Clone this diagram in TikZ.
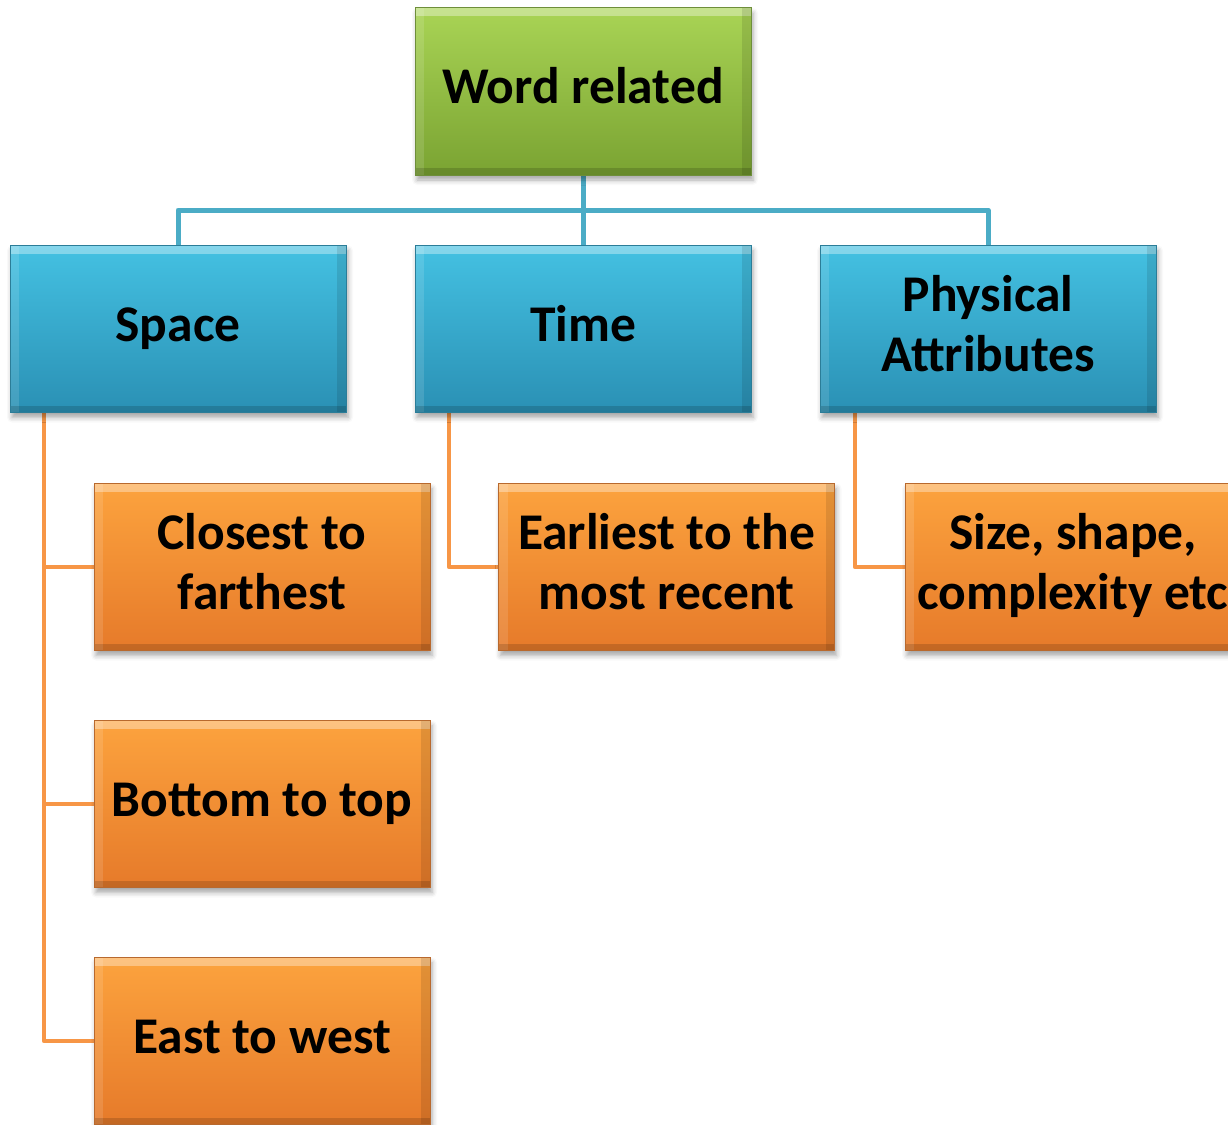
\documentclass[tikz,border=0pt]{standalone}
\usepackage{fontspec}
\setmainfont{Carlito}
\usetikzlibrary{shadows.blur,backgrounds}
\definecolor{lnblue}{HTML}{4BACC6}
\definecolor{lnorange}{HTML}{F79646}
\definecolor{grtop}{HTML}{A9D455}
\definecolor{grbot}{HTML}{7AA332}
\definecolor{grrim}{HTML}{6E8E3A}
\definecolor{bltop}{HTML}{44C1E2}
\definecolor{blbot}{HTML}{2A90B4}
\definecolor{blrim}{HTML}{2B7D98}
\definecolor{ortop}{HTML}{FCA33E}
\definecolor{orbot}{HTML}{E67A2A}
\definecolor{orrim}{HTML}{B8692E}
\tikzset{
  bevel/.style={path picture={
    \fill[white,opacity=0.35] (path picture bounding box.north west) rectangle ([yshift=-8pt]path picture bounding box.north east);
    \fill[white,opacity=0.12] (path picture bounding box.north west) rectangle ([xshift=9pt]path picture bounding box.south west);
    \fill[black,opacity=0.10] (path picture bounding box.north east) rectangle ([xshift=-9pt]path picture bounding box.south east);
    \fill[black,opacity=0.15] (path picture bounding box.south west) rectangle ([yshift=7pt]path picture bounding box.south east);
  }},
  box/.style={rectangle, minimum width=336pt, minimum height=167pt, inner sep=0pt,
    align=center, text=black, font=\fontsize{51.5}{60}\selectfont\bfseries,
    line width=1pt, bevel,
    blur shadow={shadow xshift=2pt, shadow yshift=-5pt, shadow blur radius=5pt, shadow opacity=35}},
  % fixed text boxes so every label sits at the same baseline offset
  oneline/.style={text height=35pt, text depth=11pt},
  twoline/.style={text height=95pt, text depth=11pt},
  rootbox/.style={box, top color=grtop, bottom color=grbot, draw=grrim},
  catbox/.style={box, top color=bltop, bottom color=blbot, draw=blrim},
  leafbox/.style={box, top color=ortop, bottom color=orbot, draw=orrim},
  bluelink/.style={draw=lnblue, line width=5pt, line join=round},
  orangelink/.style={draw=lnorange, line width=4.5pt, line join=round}
}
\begin{document}
\begin{tikzpicture}[x=1pt,y=-1pt]
  \useasboundingbox (0,0) rectangle (1228,1124);
  \clip (0,0) rectangle (1228,1124);

  % top level
  \node[rootbox, oneline] (word) at (583,91.5) {Word related};

  % categories
  \node[catbox, oneline] (space) at (178,329) {Space};
  \node[catbox, oneline] (time)  at (583,329) {Time};
  \node[catbox, twoline] (phys)  at (988,329) {Physical\\Attributes};

  % leaves
  \node[leafbox, twoline] (closest)  at (262,567)   {Closest to\\farthest};
  \node[leafbox, oneline] (bottom)   at (262,804)   {Bottom to top};
  \node[leafbox, oneline] (east)     at (262,1041)  {East to west};
  \node[leafbox, twoline] (earliest) at (666.5,567) {Earliest to the\\most recent};
  \node[leafbox, twoline] (size)     at (1073,567)  {Size, shape,\\complexity etc};

  % connector anchors
  \coordinate (bus)    at (583,210);
  \coordinate (spdrop) at (44,413);
  \coordinate (tmdrop) at (449,413);
  \coordinate (phdrop) at (855,413);

  \begin{scope}[on background layer]
    \draw[bluelink] (word.south) -- (time.north);
    \draw[bluelink] (space.north) |- (bus) -| (phys.north);

    \draw[orangelink] (spdrop) |- (east.west);
    \draw[orangelink] (spdrop) |- (closest.west);
    \draw[orangelink] (spdrop) |- (bottom.west);
    \draw[orangelink] (tmdrop) |- (earliest.west);
    \draw[orangelink] (phdrop) |- (size.west);
  \end{scope}
\end{tikzpicture}
\end{document}
